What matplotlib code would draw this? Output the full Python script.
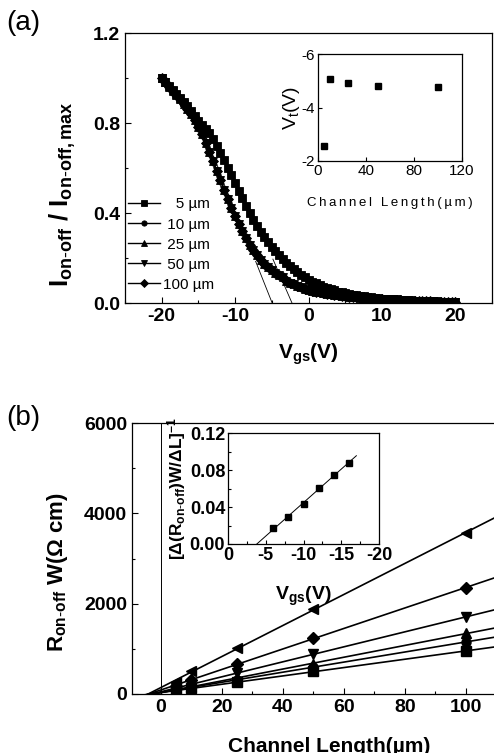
import numpy as np
import matplotlib
matplotlib.use("Agg")
import matplotlib.pyplot as plt
from matplotlib.ticker import MultipleLocator, FixedLocator

plt.rcParams['font.family'] = ['Liberation Sans', 'DejaVu Sans']
plt.rcParams['mathtext.fontset'] = 'custom'
plt.rcParams['mathtext.rm'] = 'Liberation Sans'
plt.rcParams['mathtext.it'] = 'Liberation Sans'
plt.rcParams['mathtext.bf'] = 'Liberation Sans:bold'
plt.rcParams['axes.unicode_minus'] = False

# ---------------- data: panel (a) ----------------
vgs = np.arange(-20, 20.01, 0.5)
# normalised on-off current, 5 um device (right-hand curve)
i_5um = [1.000, 0.983, 0.966, 0.948, 0.930, 0.912, 0.893, 0.874, 0.854, 0.833,
         0.811, 0.792, 0.774, 0.754, 0.730, 0.700, 0.668, 0.634, 0.600, 0.568,
         0.535, 0.500, 0.465, 0.432, 0.400, 0.370, 0.342, 0.315, 0.292, 0.270,
         0.250, 0.231, 0.214, 0.195, 0.176, 0.163, 0.150, 0.137, 0.125, 0.114,
         0.104, 0.095, 0.087, 0.080, 0.073, 0.067, 0.061, 0.056, 0.051, 0.047,
         0.043, 0.040, 0.037, 0.034, 0.031, 0.029, 0.027, 0.025, 0.023, 0.021,
         0.020, 0.019, 0.018, 0.017, 0.016, 0.015, 0.014, 0.013, 0.012, 0.011,
         0.010, 0.009, 0.009, 0.008, 0.007, 0.007, 0.006, 0.006, 0.005, 0.005,
         0.004]
# 10, 25, 50 and 100 um devices (overlapping left-hand bunch)
i_10um = [1.000, 0.981, 0.962, 0.943, 0.924, 0.905, 0.884, 0.862, 0.838, 0.812,
          0.784, 0.750, 0.712, 0.672, 0.630, 0.588, 0.546, 0.504, 0.462, 0.424,
          0.388, 0.352, 0.318, 0.288, 0.260, 0.235, 0.212, 0.192, 0.175, 0.160,
          0.147, 0.135, 0.124, 0.114, 0.100, 0.091, 0.083, 0.076, 0.070, 0.064,
          0.059, 0.055, 0.051, 0.047, 0.044, 0.042, 0.039, 0.036, 0.034, 0.032,
          0.030, 0.028, 0.026, 0.025, 0.023, 0.022, 0.021, 0.019, 0.018, 0.017,
          0.016, 0.015, 0.014, 0.013, 0.012, 0.012, 0.011, 0.010, 0.010, 0.009,
          0.008, 0.008, 0.007, 0.007, 0.006, 0.006, 0.005, 0.005, 0.004, 0.004,
          0.003]
i_25um = i_10um
i_50um = i_10um
i_100um = i_10um
curve_labels = ['   5 µm', ' 10 µm', ' 25 µm', ' 50 µm', '100 µm']
curve_markers = ['s', 'o', '^', 'v', 'D']

tangent_v = [[-7.2, -4.95], [-4.85, -2.25]]
tangent_i = [[0.185, 0.0], [0.195, 0.0]]

# inset (a): threshold voltage vs channel length
vt_length = [5, 10, 25, 50, 100]
vt_value = [-2.55, -5.05, -4.92, -4.80, -4.75]

# ---------------- data: panel (b) ----------------
chan_len = [5, 10, 25, 50, 100]
r_sq = [75, 125, 260, 500, 952]
r_circ = [90, 150, 315, 600, 1151]
r_up = [100, 170, 360, 655, 1350]
r_down = [130, 220, 455, 890, 1705]
r_diam = [180, 318, 674, 1244, 2347]
r_left = [270, 504, 1022, 1890, 3560]
r_markers = ['s', 'o', '^', 'v', 'D', '<']

# inset (b)
inv_vgs = [-6, -8, -10, -12, -14, -16]
inv_val = [0.0173, 0.0288, 0.0432, 0.0601, 0.0749, 0.0876]

# ---------------- figure ----------------
W, H = 494, 753
fig = plt.figure(figsize=(W / 100, H / 100), dpi=100)


def fpos(x0, y0, x1, y1):
    return [x0 / W, 1 - y1 / H, (x1 - x0) / W, (y1 - y0) / H]


def style(ax, size=12, weight='bold'):
    ax.tick_params(which='both', direction='in', top=False, right=False)
    ax.tick_params(which='major', length=4, width=0.8, labelsize=size)
    ax.tick_params(which='minor', length=2, width=0.8)
    for lab in ax.get_xticklabels() + ax.get_yticklabels():
        lab.set_fontweight(weight)
    for s in ax.spines.values():
        s.set_linewidth(0.9)


# ---- panel (a) ----
ax1 = fig.add_axes(fpos(125, 33, 492, 303))
all_curves = [i_5um, i_10um, i_25um, i_50um, i_100um]
for y, lab, m in zip(all_curves, curve_labels, curve_markers):
    ax1.plot(vgs, y, color='k', lw=1.0, marker=m, ms=5.2, mew=0.6, label=lab)
for tv, ti in zip(tangent_v, tangent_i):
    ax1.plot(tv, ti, color='k', lw=0.6)
ax1.set_xlim(-25, 25)
ax1.set_ylim(0, 1.2)
ax1.xaxis.set_major_locator(MultipleLocator(10))
ax1.xaxis.set_minor_locator(MultipleLocator(5))
ax1.yaxis.set_major_locator(MultipleLocator(0.4))
ax1.yaxis.set_minor_locator(MultipleLocator(0.2))
ax1.yaxis.set_major_formatter(matplotlib.ticker.FormatStrFormatter('%.1f'))
style(ax1, 14)
ax1.set_xlabel(r'$\mathbf{V_{gs}(V)}$', fontsize=15, labelpad=12)
ax1.set_ylabel(r'$\mathbf{I_{on\text{-}off}\ /\ I_{on\text{-}off,max}}$', fontsize=18.5)
ax1.yaxis.set_label_coords(-0.128, 0.40)
leg = ax1.legend(loc='lower left', bbox_to_anchor=(0.0, 0.03), borderaxespad=0,
                 frameon=False, fontsize=11, handlelength=2.1, handletextpad=0.2,
                 labelspacing=0.4, borderpad=0.2)
for h in leg.legend_handles:
    h.set_markersize(3.8)

# inset (a)
ax1i = fig.add_axes(fpos(318, 54, 462, 161))
ax1i.plot(vt_length, vt_value, ls='none', marker='s', ms=3.8, color='k')
ax1i.set_xlim(0, 120)
ax1i.set_ylim(-2, -6)
ax1i.xaxis.set_major_locator(MultipleLocator(40))
ax1i.yaxis.set_major_locator(MultipleLocator(2))
ax1i.yaxis.set_major_formatter(matplotlib.ticker.FuncFormatter(lambda v, p: '%d' % v))
style(ax1i, 11, 'normal')
ax1i.tick_params(which='major', length=3, pad=2)
ax1i.set_ylabel(r'$\mathrm{V_t(V)}$', fontsize=14, labelpad=0)
ax1i.set_xlabel('\u2009'.join('Channel Length(µm)'), fontsize=9.5, labelpad=14)

fig.text(6 / W, 1 - 10 / H, '(a)', fontsize=20, va='top', ha='left')

# ---- panel (b) ----
x_lo, x_hi = -9.5, 120
px_per = 3.05
ax2 = fig.add_axes(fpos(132, 423, 132 + (x_hi - x_lo) * px_per, 694))
ax2.axvline(0, color='k', lw=0.7)
xfit = np.linspace(-10, 125, 50)
for yv, m in zip([r_sq, r_circ, r_up, r_down, r_diam, r_left], r_markers):
    k, b = np.polyfit(chan_len, yv, 1)
    ax2.plot(xfit, k * xfit + b, color='k', lw=1.2)
    ax2.plot(chan_len, yv, ls='none', marker=m, ms=6.5, color='k')
ax2.set_xlim(x_lo, x_hi)
ax2.set_ylim(0, 6000)
ax2.xaxis.set_major_locator(FixedLocator([0, 20, 40, 60, 80, 100]))
ax2.xaxis.set_minor_locator(MultipleLocator(10))
ax2.yaxis.set_major_locator(MultipleLocator(2000))
ax2.yaxis.set_minor_locator(MultipleLocator(1000))
style(ax2, 14)
ax2.set_xlabel('Channel Length(µm)', fontsize=15, fontweight='bold', labelpad=15)
ax2.set_ylabel(r'$\mathbf{R_{on\text{-}off}\ W(\Omega\ cm)}$', fontsize=16)
ax2.yaxis.set_label_coords(-62 / ((x_hi - x_lo) * px_per), 0.45)

# inset (b)
ax2i = fig.add_axes(fpos(228, 433, 379, 544))
k, b = np.polyfit(inv_vgs, inv_val, 1)
xl = np.array([-b / k, -17.0])
ax2i.plot(xl, k * xl + b, color='k', lw=0.7)
ax2i.plot(inv_vgs, inv_val, ls='none', marker='s', ms=4.5, color='k')
ax2i.set_xlim(0, -20)
ax2i.set_ylim(0, 0.12)
ax2i.xaxis.set_major_locator(MultipleLocator(5))
ax2i.xaxis.set_minor_locator(MultipleLocator(2.5))
ax2i.yaxis.set_major_locator(MultipleLocator(0.04))
ax2i.yaxis.set_minor_locator(MultipleLocator(0.02))
ax2i.xaxis.set_major_formatter(matplotlib.ticker.FuncFormatter(lambda v, p: '%d' % v))
ax2i.yaxis.set_major_formatter(matplotlib.ticker.FormatStrFormatter('%.2f'))
style(ax2i, 13)
ax2i.tick_params(which='major', length=3, pad=2)
ax2i.set_ylabel(r'$\mathbf{[\Delta(R_{on\text{-}off})W/\Delta L]^{-1}}$', fontsize=12.5, labelpad=1)
ax2i.set_xlabel(r'$\mathbf{V_{gs}(V)}$', fontsize=14, labelpad=15)

fig.text(6 / W, 1 - 405 / H, '(b)', fontsize=20, va='top', ha='left')

fig.savefig('out.png', dpi=100)
